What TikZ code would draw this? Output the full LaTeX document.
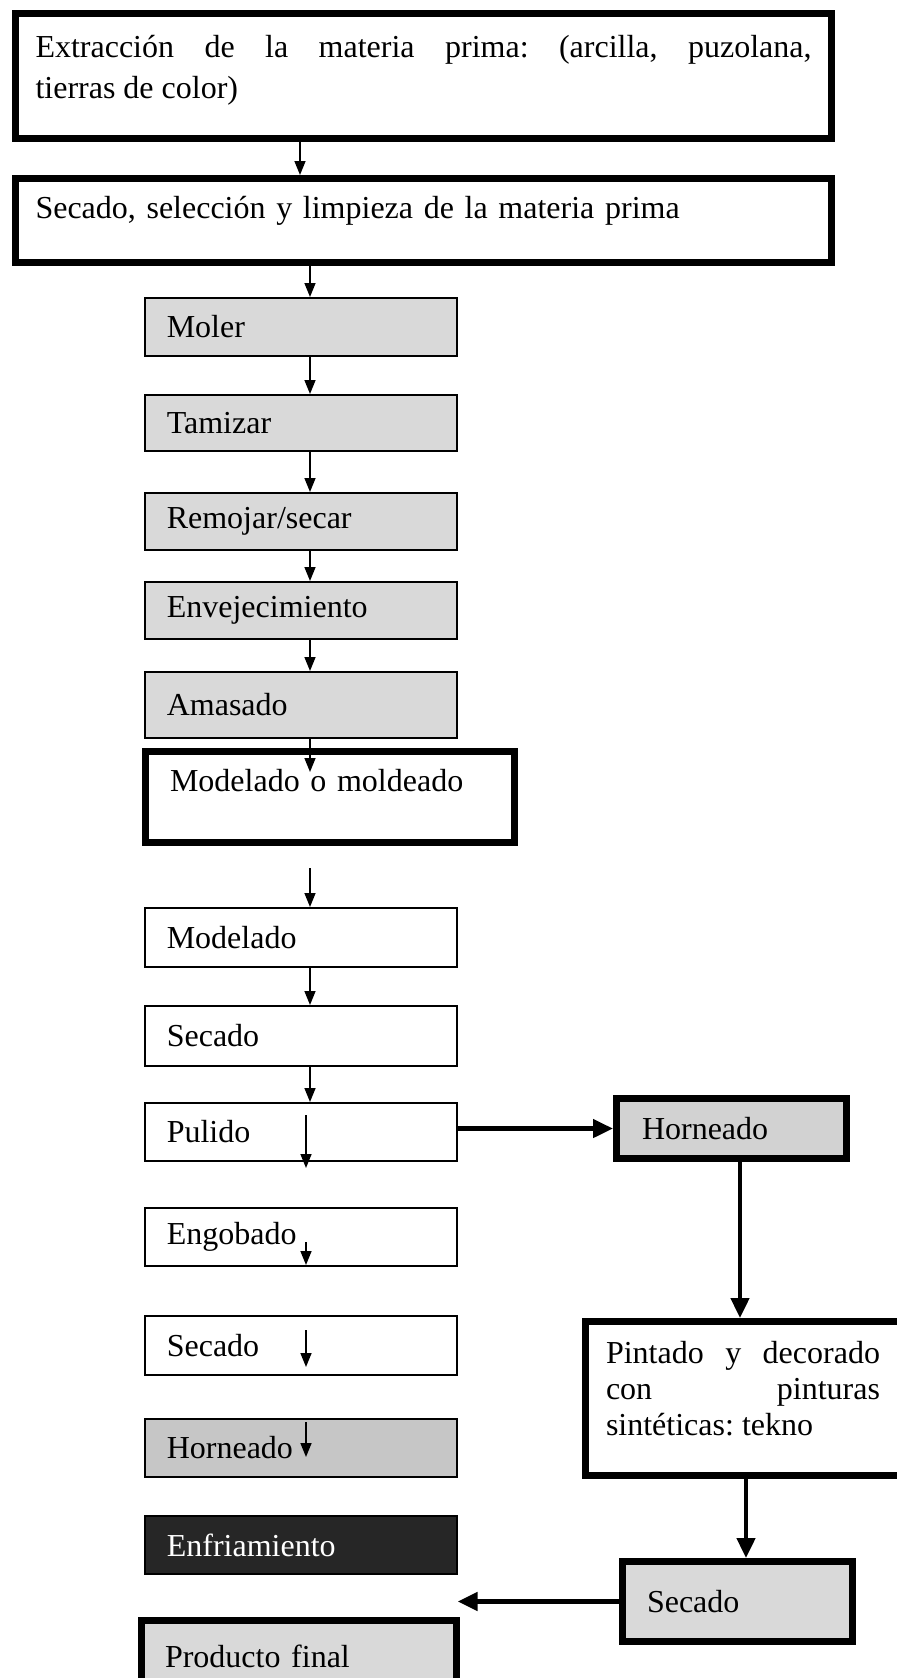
\documentclass[tikz,border=0pt]{standalone}
\usepackage{fontspec}
\setmainfont{Liberation Serif}
\usepackage{tikz}
\usetikzlibrary{arrows.meta}
\usetikzlibrary{calc}
\frenchspacing
\tikzstyle{smallbox} = [rectangle, draw, line width=0.8pt, anchor=north west, minimum width=156pt, text width=134pt, inner xsep=11pt, align=left, font=\fontsize{16}{19}\selectfont]
\tikzstyle{bigbox} = [rectangle, draw, line width=3.5pt, anchor=north west, inner xsep=10pt, inner ysep=9pt, align=left, font=\fontsize{16}{19}\selectfont]
\tikzstyle{ar} = [line width=0.75pt, -{Triangle[length=7pt,width=5.5pt]}]
\tikzstyle{bigar} = [line width=2.3pt, -{Triangle[length=10pt,width=9pt]}]

\begin{document}
\begin{tikzpicture}[x=0.5pt,y=-0.5pt]
				\clip (0,0) rectangle (897,1678);
				\node[bigbox, text width=388pt, align=justify, inner ysep=11pt, text depth=29.5pt, font=\fontsize{16}{20.5}\selectfont] (extr) at (12,10) {Extracción de la materia prima: (arcilla, puzolana,\linebreak tierras de color)};
				\node[bigbox, text width=388pt, inner ysep=8.75pt, text depth=13.5pt] (sel) at (12,175) {Secado, selección y limpieza de la materia prima};
				%%%%%%%%%%%%%%%%%%%%%%%%%%%%%%%%%%
				\node[smallbox, fill=gray!30, minimum height=29.2pt] (moler) at (144,297) {Moler};
				\node[smallbox, fill=gray!30, minimum height=28.2pt] (tamizar) at (144,394) {Tamizar};
				\node[smallbox, fill=gray!30, minimum height=28.7pt] (remojar) at (144,492) {Remojar/secar};
				\node[smallbox, fill=gray!30, minimum height=28.7pt] (envej) at (144,581) {Envejecimiento};
				\node[smallbox, fill=gray!30, minimum height=33.2pt] (amasado) at (144,671) {Amasado};
				\node[bigbox, text width=160pt, inner xsep=12.25pt, inner ysep=9pt, text depth=16.5pt] (mold) at (142,748) {Modelado o moldeado};
				%%%%%%%%%%%%%%%%%%%%%%%%%%%%%%%%%%
				\node[smallbox, fill=white, minimum height=29.7pt] (modelado) at (144,907) {Modelado};
				\node[smallbox, fill=white, minimum height=30.2pt] (secado) at (144,1005) {Secado};
				\node[smallbox, fill=white, minimum height=29.2pt] (pulido) at (144,1102) {Pulido};
				\node[smallbox, fill=white, minimum height=29.2pt] (engob) at (144,1207) {Engobado};
				\node[smallbox, fill=white, minimum height=29.7pt] (secadob) at (144,1315) {Secado};
				\node[smallbox, fill=gray!45, minimum height=29.2pt] (hornob) at (144,1418) {Horneado};
				\node[smallbox, fill=black!85, text=white, minimum height=29.2pt] (enfr) at (144,1515) {Enfriamiento};
				\node[bigbox, fill=gray!30, minimum width=157.5pt, text width=134pt, inner xsep=11.75pt, minimum height=36pt] (prod) at (138,1617) {Producto final};
				%%%%%%%%%%%%%%%%%%%%%%%%%%%%%%%%%%
				\node[bigbox, fill=gray!35, minimum width=115pt, text width=89.5pt, inner xsep=12.75pt, minimum height=30pt] (oven) at (613,1095) {Horneado};
				\node[bigbox, text width=137pt, align=justify, inner xsep=10.25pt, inner ysep=10pt, text depth=46pt, font=\fontsize{16}{18}\selectfont] (paint) at (582,1318) {Pintado y decorado\linebreak con pinturas\linebreak sintéticas: tekno};
				\node[bigbox, fill=gray!30, minimum width=115pt, text width=90.5pt, inner xsep=12.25pt, minimum height=40pt] (dry) at (619,1558) {Secado};
				%%%%%%%%%%%%%%%%%%%%%%%%%%%%%%%%%%
				\coordinate (xa) at (300,0);
				\coordinate (xb) at (310,0);
				\coordinate (xc) at (306,0);
				\coordinate (xd) at (740,0);
				\coordinate (xe) at (746,0);
				\coordinate (free) at (310,868);
				%%%%%%%%%%%%%%%%%%%%%%%%%%%%%%%%%%
				\draw[ar] (extr.south -| xa) -- (sel.north -| xa);
				\draw[ar] (sel.south -| xb) -- (moler.north -| xb);
				\draw[ar] (moler.south -| xb) -- (tamizar.north -| xb);
				\draw[ar] (tamizar.south -| xb) -- (remojar.north -| xb);
				\draw[ar] (remojar.south -| xb) -- (envej.north -| xb);
				\draw[ar] (envej.south -| xb) -- (amasado.north -| xb);
				\draw[ar] (amasado.south -| xb) -- ($(mold.north -| xb)+(0,24)$);
				\draw[ar] (free) -- (modelado.north -| free);
				\draw[ar] (modelado.south -| xb) -- (secado.north -| xb);
				\draw[ar] (secado.south -| xb) -- (pulido.north -| xb);
				\draw[ar] ($(pulido.north -| xc)+(0,13)$) -- ($(pulido.south -| xc)+(0,6)$);
				\draw[ar] ($(engob.north -| xc)+(0,35)$) -- ($(engob.south -| xc)+(0,-2)$);
				\draw[ar] ($(secadob.north -| xc)+(0,15)$) -- ($(secadob.south -| xc)+(0,-9)$);
				\draw[ar] ($(hornob.north -| xc)+(0,4)$) -- ($(hornob.south -| xc)+(0,-21)$);
				%%%%%%%%%%%%%%%%%%%%%%%%%%%%%%%%%%
				\draw[bigar] (pulido.east |- oven.west) -- (oven.west);
				\draw[bigar] (oven.south -| xd) -- (paint.north -| xd);
				\draw[bigar] (paint.south -| xe) -- (dry.north -| xe);
				\draw[bigar] (dry.west) -- (dry.west -| enfr.east);
%				\draw[ar] (hornob.south -| xc) -- (enfr.north -| xc);
			\end{tikzpicture}
\end{document}
